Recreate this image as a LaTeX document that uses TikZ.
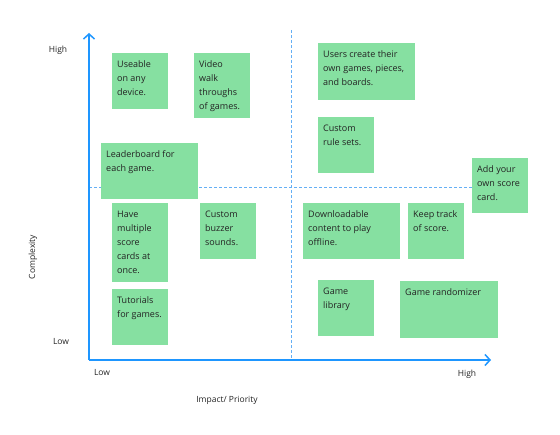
\documentclass[tikz,border=0pt]{standalone}
\usepackage{fontspec}
\setmainfont{Open Sans}
\usetikzlibrary{arrows.meta}
\definecolor{notegreen}{RGB}{134,224,161}
\definecolor{axisblue}{RGB}{30,150,255}
\definecolor{guideblue}{RGB}{100,175,245}
\definecolor{textgray}{RGB}{35,35,35}
\tikzset{
  note/.style 2 args={fill=notegreen, minimum width=#1, minimum height=#2, anchor=north west, inner sep=0pt},
  notetext/.style={anchor=north west, align=left, inner xsep=5pt, inner ysep=7.5pt, text=textgray, font=\fontsize{9}{14}\selectfont},
  axis/.style={draw=axisblue, line width=1.5pt, -{Straight Barb[length=5pt,width=11pt,line width=1.5pt]}},
  guide/.style={draw=guideblue, line width=0.8pt, dash pattern=on 3pt off 2pt},
  axislabel/.style={text=textgray, font=\fontsize{8.5}{10}\selectfont, inner sep=0pt}
}
\begin{document}
\begin{tikzpicture}[x=1pt,y=-1pt]
  \useasboundingbox (0,0) rectangle (560,435);

  % axes
  \coordinate (origin) at (89,360);
  \coordinate (ytop) at (89,33);
  \coordinate (xend) at (491,360);
  \coordinate (vtop) at (291.7,30);
  \coordinate (vbot) at (291.7,360);
  \coordinate (hleft) at (89,187.7);
  \coordinate (hright) at (528,187.7);

  \draw[guide] (vtop) -- (vbot);
  \draw[guide] (hleft) -- (hright);
  \draw[axis] (origin) -- (ytop);
  \draw[axis] (origin) -- (xend);

  \node[axislabel] (yhigh) at (58,50) {High};
  \node[axislabel] (ylow) at (61,342) {Low};
  \node[axislabel] (xlow) at (102,373) {Low};
  \node[axislabel] (xhigh) at (467,374) {High};
  \node[axislabel] (xtitle) at (227,400) {Impact/ Priority};
  \node[axislabel,rotate=90] (ytitle) at (33,257) {Complexity};

  % low impact notes
  \node[note={56}{56},label={[notetext]north west:Useable\\on any\\device.}] (useable) at (112,53) {};
  \node[note={56}{65},label={[notetext]north west:Video\\walk\\throughs\\of games.}] (video) at (194,53) {};
  \node[note={97}{56},label={[notetext]north west:Leaderboard for\\each game.}] (leader) at (101,143) {};
  \node[note={56}{79},label={[notetext]north west:Have\\multiple\\score\\cards at\\once.}] (multi) at (112,203) {};
  \node[note={56}{56},label={[notetext]north west:Custom\\buzzer\\sounds.}] (buzzer) at (200,203) {};
  \node[note={56}{56},label={[notetext]north west:Tutorials\\for games.}] (tutorial) at (112,289) {};

  % high impact notes
  \node[note={97}{57},label={[notetext]north west:Users create their\\own games, pieces,\\and boards.}] (usergames) at (318,43) {};
  \node[note={56}{56},label={[notetext]north west:Custom\\rule sets.}] (rules) at (318,117) {};
  \node[note={56}{55},label={[notetext]north west:Add your\\own score\\card.}] (ownscore) at (472,158) {};
  \node[note={97}{56},label={[notetext]north west:Downloadable\\content to play\\offline.}] (download) at (303,203) {};
  \node[note={56}{56},label={[notetext]north west:Keep track\\of score.}] (keeptrack) at (408,203) {};
  \node[note={56}{56},label={[notetext]north west:Game\\library}] (library) at (318,280) {};
  \node[note={98}{57},label={[notetext]north west:Game randomizer}] (random) at (400,281) {};
\end{tikzpicture}
\end{document}
